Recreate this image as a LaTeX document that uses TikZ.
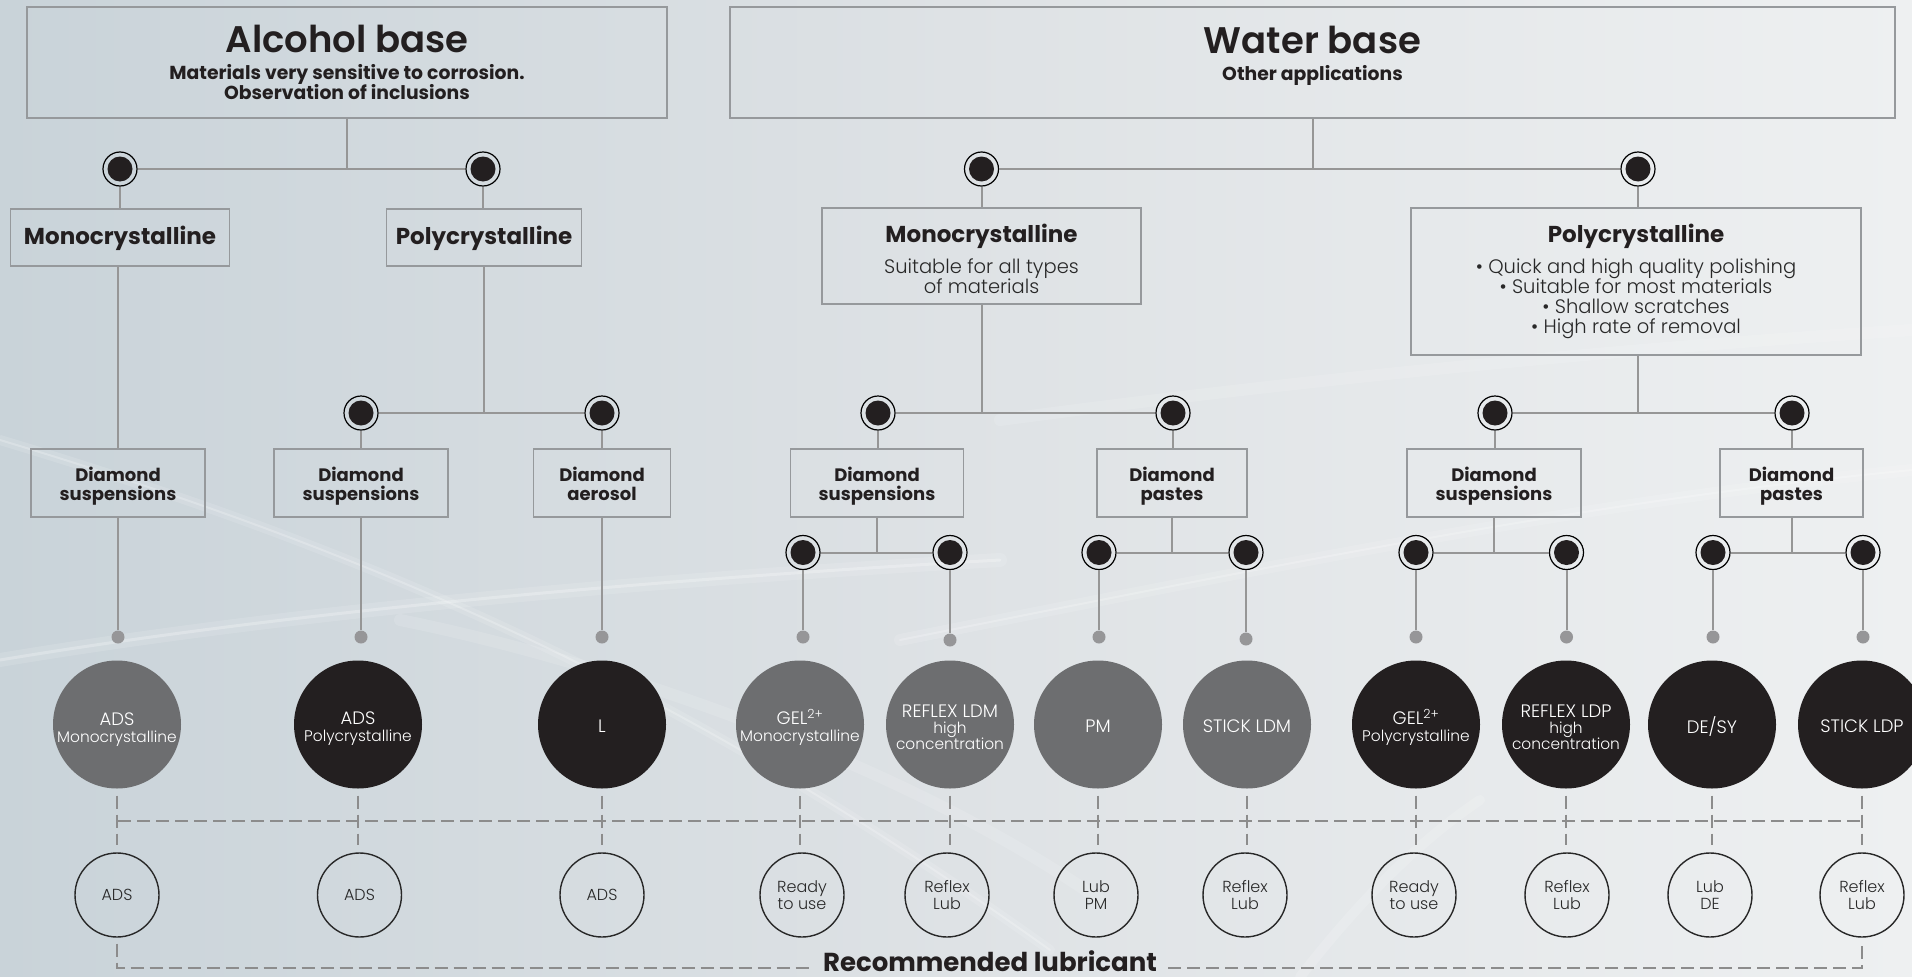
\documentclass[tikz,border=0pt]{standalone}
\usepackage{fontspec}
\setmainfont{Poppins}
\newfontfamily\lightf{Poppins Light}
\newfontfamily\semif{Poppins SemiBold}
\newfontfamily\boldf{Poppins Bold}
\usetikzlibrary{calc}
\definecolor{bgL}{RGB}{201,211,217}
\definecolor{bgM}{RGB}{222,226,229}
\definecolor{bgR}{RGB}{238,240,241}
\definecolor{boxc}{RGB}{150,153,156}
\definecolor{linec}{RGB}{150,150,150}
\definecolor{dark}{RGB}{35,31,32}
\definecolor{greyc}{RGB}{109,110,112}
\definecolor{dotc}{RGB}{150,150,152}
\definecolor{dashc}{RGB}{140,140,140}
\definecolor{textc}{RGB}{40,40,40}
\begin{document}
\begin{tikzpicture}[x=1pt,y=-1pt,
  box/.style={draw=boxc, line width=1.6pt, inner sep=0pt},
  conn/.style={draw=linec, line width=2pt},
  bull/.style={circle, draw=black, line width=1.2pt, minimum size=34pt, inner sep=0pt,
     path picture={\fill[dark] (path picture bounding box.center) circle (12.5pt);}},
  gdot/.style={circle, fill=dotc, minimum size=13pt, inner sep=0pt},
  bigg/.style={circle, fill=greyc, minimum size=128pt, inner sep=0pt},
  bigb/.style={bigg, fill=dark},
  ctext/.style={text=white, align=center, inner sep=0pt, font=\lightf\fontsize{18}{19}\selectfont},
  lub/.style={circle, draw=textc, line width=1.4pt, minimum size=84pt, inner sep=0pt, align=center,
     text=textc, font=\lightf\fontsize{16}{17.5}\selectfont},
  dline/.style={draw=dashc, line width=1.5pt, dash pattern=on 13pt off 6pt},
  ttl/.style={anchor=base, text=dark, font=\semif\fontsize{37}{40}\selectfont},
  sub/.style={anchor=base, text=dark, font=\boldf\fontsize{18.8}{20}\selectfont},
  hd/.style={anchor=base, text=dark, font=\boldf\fontsize{23}{25}\selectfont},
  dia/.style={anchor=base, text=dark, font=\boldf\fontsize{18}{20}\selectfont},
  body/.style={anchor=base, text=textc, font=\lightf\fontsize{19.5}{21}\selectfont}
]
\newcommand\smalltxt[1]{{\fontsize{15.4}{16}\selectfont #1}}
% background
\useasboundingbox (0,0) rectangle (1912,977);
\shade[left color=bgL, right color=bgR, middle color=bgM] (0,0) rectangle (1912,977);
\begin{scope}[white, line cap=round]
  \draw[line width=14pt, opacity=.12] (0,660) .. controls (300,610) and (650,580) .. (1000,560);
  \draw[line width=3pt, opacity=.25] (0,660) .. controls (300,610) and (650,580) .. (1000,560);
  \draw[line width=10pt, opacity=.12] (0,440) .. controls (400,560) and (700,700) .. (1050,950);
  \draw[line width=2pt, opacity=.22] (0,440) .. controls (400,560) and (700,700) .. (1050,950);
  \draw[line width=12pt, opacity=.12] (400,620) .. controls (600,660) and (900,760) .. (1100,900);
  \draw[line width=12pt, opacity=.12] (900,640) .. controls (1300,560) and (1600,500) .. (1912,470);
  \draw[line width=2pt, opacity=.22] (900,640) .. controls (1300,560) and (1600,500) .. (1912,470);
  \draw[line width=10pt, opacity=.15] (1300,977) .. controls (1360,900) and (1420,840) .. (1480,800);
  \draw[line width=12pt, opacity=.12] (1000,420) .. controls (1300,380) and (1600,350) .. (1912,330);
\end{scope}

% ---------- Alcohol base ----------
\node[box, minimum width=640pt, minimum height=111pt] (abase) at (347,62.5) {};
\node[ttl] (abaseT) at (347,52) {Alcohol base};
\node[sub] (abaseS1) at (347,79) {Materials very sensitive to corrosion.};
\node[sub] (abaseS2) at (347,99) {Observation of inclusions};

\node[bull] (bA1) at (120,169) {};
\node[bull] (bA2) at (483,169) {};
\draw[conn] (abase.south) -- (abase.south |- bA1.center);
\draw[conn] (bA1) -- (bA2);

\node[box, minimum width=219pt, minimum height=57pt] (amono) at (120,237.5) {};
\node[hd] (amonoT) at (120,244) {Monocrystalline};
\node[box, minimum width=195pt, minimum height=57pt] (apoly) at (484,237.5) {};
\node[hd] (apolyT) at (484,244) {Polycrystalline};
\draw[conn] (bA1) -- (bA1 |- amono.north);
\draw[conn] (bA2) -- (bA2 |- apoly.north);

\node[bull] (bA3) at (361,413) {};
\node[bull] (bA4) at (602,413) {};
\draw[conn] (apoly.south) -- (apoly.south |- bA3.center);
\draw[conn] (bA3) -- (bA4);

\node[box, minimum width=174pt, minimum height=68pt] (ad1) at (118,483) {};
\node[dia] (ad1a) at (118,481) {Diamond};
\node[dia] (ad1b) at (118,500) {suspensions};
\node[box, minimum width=174pt, minimum height=68pt] (ad2) at (361,483) {};
\node[dia] (ad2a) at (361,481) {Diamond};
\node[dia] (ad2b) at (361,500) {suspensions};
\node[box, minimum width=137pt, minimum height=68pt] (ad3) at (602,483) {};
\node[dia] (ad3a) at (602,481) {Diamond};
\node[dia] (ad3b) at (602,500) {aerosol};
\draw[conn] (amono.south -| ad1.north) -- (ad1.north);
\draw[conn] (bA3) -- (bA3 |- ad2.north);
\draw[conn] (bA4) -- (bA4 |- ad3.north);

% ---------- Water base ----------
\node[box, minimum width=1165pt, minimum height=111pt] (wbase) at (1312.5,62.5) {};
\node[ttl] (wbaseT) at (1312.5,53) {Water base};
\node[sub] (wbaseS) at (1312.5,80) {Other applications};

\node[bull] (bW1) at (981.5,169) {};
\node[bull] (bW2) at (1638,169) {};
\draw[conn] (wbase.south) -- (wbase.south |- bW1.center);
\draw[conn] (bW1) -- (bW2);

\node[box, minimum width=319pt, minimum height=96pt] (wmono) at (981.5,256) {};
\node[hd] (wmonoT) at (981.5,242) {Monocrystalline};
\node[body] (wmono1) at (981.5,273) {Suitable for all types};
\node[body] (wmono2) at (981.5,293) {of materials};

\node[box, minimum width=450pt, minimum height=147pt] (wpoly) at (1636,281.5) {};
\node[hd] (wpolyT) at (1636,242) {Polycrystalline};
\node[body] (wpoly1) at (1636,273) {• Quick and high quality polishing};
\node[body] (wpoly2) at (1636,293) {• Suitable for most materials};
\node[body] (wpoly3) at (1636,313) {• Shallow scratches};
\node[body] (wpoly4) at (1636,333) {• High rate of removal};

\draw[conn] (bW1) -- (bW1 |- wmono.north);
\draw[conn] (bW2) -- (bW2 |- wpoly.north);

\node[bull] (bW3) at (878,413) {};
\node[bull] (bW4) at (1173,413) {};
\node[bull] (bW5) at (1495,413) {};
\node[bull] (bW6) at (1792,413) {};
\draw[conn] (wmono.south) -- (wmono.south |- bW3.center);
\draw[conn] (bW3) -- (bW4);
\draw[conn] (bW2 |- wpoly.south) -- (bW2 |- bW5.center);
\draw[conn] (bW5) -- (bW6);

\node[box, minimum width=173pt, minimum height=68pt] (wd1) at (877,483) {};
\node[dia] (wd1a) at (877,481) {Diamond};
\node[dia] (wd1b) at (877,500) {suspensions};
\node[box, minimum width=150pt, minimum height=68pt] (wd2) at (1172,483) {};
\node[dia] (wd2a) at (1172,481) {Diamond};
\node[dia] (wd2b) at (1172,500) {pastes};
\node[box, minimum width=174pt, minimum height=68pt] (wd3) at (1494,483) {};
\node[dia] (wd3a) at (1494,481) {Diamond};
\node[dia] (wd3b) at (1494,500) {suspensions};
\node[box, minimum width=143pt, minimum height=68pt] (wd4) at (1791.5,483) {};
\node[dia] (wd4a) at (1791.5,481) {Diamond};
\node[dia] (wd4b) at (1791.5,500) {pastes};
\draw[conn] (bW3) -- (bW3 |- wd1.north);
\draw[conn] (bW4) -- (bW4 |- wd2.north);
\draw[conn] (bW5) -- (bW5 |- wd3.north);
\draw[conn] (bW6) -- (bW6 |- wd4.north);

% third level bullseyes
\node[bull] (bL1) at (803,552.5) {};
\node[bull] (bL2) at (950,552.5) {};
\node[bull] (bL3) at (1099,552.5) {};
\node[bull] (bL4) at (1246,552.5) {};
\node[bull] (bL5) at (1416,552.5) {};
\node[bull] (bL6) at (1566.5,552.5) {};
\node[bull] (bL7) at (1713,552.5) {};
\node[bull] (bL8) at (1863,552.5) {};
\draw[conn] (wd1.south) -- (wd1.south |- bL1.center);
\draw[conn] (bL1) -- (bL2);
\draw[conn] (wd2.south) -- (wd2.south |- bL3.center);
\draw[conn] (bL3) -- (bL4);
\draw[conn] (wd3.south) -- (wd3.south |- bL5.center);
\draw[conn] (bL5) -- (bL6);
\draw[conn] (wd4.south) -- (wd4.south |- bL7.center);
\draw[conn] (bL7) -- (bL8);

% gray dots
\node[gdot] (d1) at (118,637) {};
\node[gdot] (d2) at (361,637) {};
\node[gdot] (d3) at (602,637) {};
\node[gdot] (d4) at (803,637) {};
\node[gdot] (d5) at (950,640) {};
\node[gdot] (d6) at (1099,637) {};
\node[gdot] (d7) at (1246,639) {};
\node[gdot] (d8) at (1416,637) {};
\node[gdot] (d9) at (1566.5,637) {};
\node[gdot] (d10) at (1713,637) {};
\node[gdot] (d11) at (1863,637) {};
\draw[conn] (ad1.south) -- (d1);
\draw[conn] (ad2.south) -- (d2);
\draw[conn] (ad3.south) -- (d3);
\draw[conn] (bL1) -- (d4);
\draw[conn] (bL2) -- (d5);
\draw[conn] (bL3) -- (d6);
\draw[conn] (bL4) -- (d7);
\draw[conn] (bL5) -- (d8);
\draw[conn] (bL6) -- (d9);
\draw[conn] (bL7) -- (d10);
\draw[conn] (bL8) -- (d11);

% product circles
\node[bigg] (p1) at (117,724.5) {};
\node[bigb] (p2) at (358,724.5) {};
\node[bigb] (p3) at (602,724.5) {};
\node[bigg] (p4) at (800,724.5) {};
\node[bigg] (p5) at (950,724.5) {};
\node[bigg] (p6) at (1098,724.5) {};
\node[bigg] (p7) at (1247,724.5) {};
\node[bigb] (p8) at (1416,724.5) {};
\node[bigb] (p9) at (1566,724.5) {};
\node[bigb] (p10) at (1712,724.5) {};
\node[bigb] (p11) at (1862,724.5) {};
\node[ctext] (t1) at ([yshift=-5pt]p1.center) {ADS\\[-2pt]\smalltxt{Monocrystalline}};
\node[ctext] (t2) at ([yshift=-4pt]p2.center) {ADS\\[-2pt]\smalltxt{Polycrystalline}};
\node[ctext] (t3) at ([yshift=-2pt]p3.center) {L};
\node[ctext] (t4) at ([yshift=-3pt]p4.center) {GEL\textsuperscript{2+}\\[-2pt]\smalltxt{Monocrystalline}};
\node[ctext] (t5) at ([yshift=-3pt]p5.center) {REFLEX LDM\\[-3pt]\smalltxt{high}\\[-3pt]\smalltxt{concentration}};
\node[ctext] (t6) at ([yshift=-2pt]p6.center) {PM};
\node[ctext] (t7) at ([yshift=-2pt]p7.center) {STICK LDM};
\node[ctext] (t8) at ([yshift=-3pt]p8.center) {GEL\textsuperscript{2+}\\[-2pt]\smalltxt{Polycrystalline}};
\node[ctext] (t9) at ([yshift=-3pt]p9.center) {REFLEX LDP\\[-3pt]\smalltxt{high}\\[-3pt]\smalltxt{concentration}};
\node[ctext] (t10) at ([yshift=-2pt]p10.center) {DE/SY};
\node[ctext] (t11) at ([yshift=-2pt]p11.center) {STICK LDP};

% lubricant circles
\node[lub] (l1) at (117,895) {ADS};
\node[lub] (l2) at (359.5,895) {ADS};
\node[lub] (l3) at (602,895) {ADS};
\node[lub] (l4) at (802,895) {Ready\\to use};
\node[lub] (l5) at (947,895) {Reflex\\Lub};
\node[lub] (l6) at (1096,895) {Lub\\PM};
\node[lub] (l7) at (1245,895) {Reflex\\Lub};
\node[lub] (l8) at (1414,895) {Ready\\to use};
\node[lub] (l9) at (1567,895) {Reflex\\Lub};
\node[lub] (l10) at (1710,895) {Lub\\DE};
\node[lub] (l11) at (1862,895) {Reflex\\Lub};

% dashed links
\foreach \i in {1,...,11}{
  \draw[dline] ([yshift=-7pt]p\i.south) -- ([yshift=7pt]p\i.south |- l\i.north);
}
\coordinate (hl) at (118,821);
\coordinate (hr) at (1863,821);
\draw[dline] (hl) -- (hr);

\node[anchor=base, text=dark, font=\boldf\fontsize{26}{28}\selectfont, inner xsep=11pt, inner ysep=0pt] (rec) at (990,971) {Recommended lubricant};
\draw[dline] ([yshift=-6pt]l1.south) |- ([yshift=3pt]rec.base west);
\draw[dline] ([yshift=3pt]rec.base east) -| ([yshift=-6pt]l11.south);
\end{tikzpicture}
\end{document}
